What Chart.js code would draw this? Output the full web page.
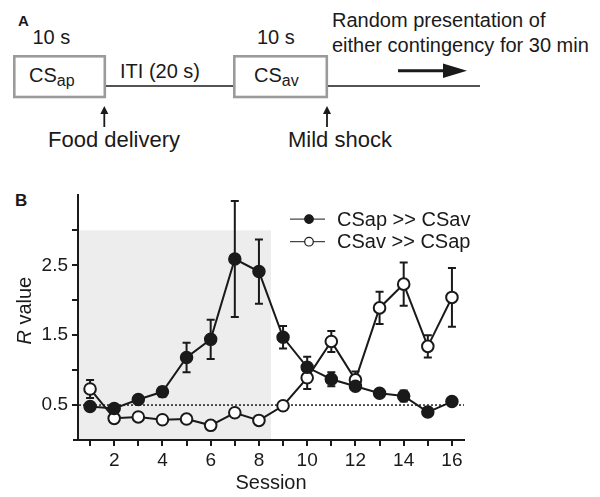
<!DOCTYPE html>
<html>
<head>
<meta charset="utf-8">
<script src="https://cdn.jsdelivr.net/npm/chart.js@4.4.1/dist/chart.umd.min.js"></script>
<style>
    body { margin: 0; background: #fff; font-family: "Liberation Sans", Arial, sans-serif; }
    #page { position: relative; width: 600px; height: 497px; overflow: hidden; }
    #panelA { position: absolute; left: 0; top: 0; }
    #labelB { position: absolute; left: 15px; top: 192px; font-size: 17px; font-weight: bold; line-height: 17px; color: #1a1a1a; }
    #chartBox { position: absolute; left: 0; top: 180px; width: 600px; height: 317px; }
</style>
</head>
<body>
<div id="page">
    <svg id="panelA" width="600" height="170" font-family="Liberation Sans, Arial, sans-serif" fill="#1a1a1a">
        <text x="18" y="26" font-size="15" font-weight="bold">A</text>
        <text x="32.5" y="44" font-size="20">10 s</text>
        <text x="257" y="44" font-size="20">10 s</text>
        <rect x="14.3" y="56.3" width="90.5" height="40.7" fill="none" stroke="#9b9b9b" stroke-width="2.6"/>
        <rect x="234.3" y="56.3" width="92.5" height="40.7" fill="none" stroke="#9b9b9b" stroke-width="2.6"/>
        <text x="29" y="82" font-size="20">CS<tspan font-size="16" dy="4">ap</tspan></text>
        <text x="254" y="82" font-size="20">CS<tspan font-size="16" dy="4">av</tspan></text>
        <line x1="106" y1="86" x2="233" y2="86" stroke="#1a1a1a" stroke-width="1.5"/>
        <line x1="328" y1="86" x2="480" y2="86" stroke="#1a1a1a" stroke-width="1.5"/>
        <text x="120" y="77.5" font-size="20">ITI (20 s)</text>
        <text x="332" y="27" font-size="20">Random presentation of</text>
        <text x="332" y="52" font-size="20">either contingency for 30 min</text>
        <line x1="398" y1="70.7" x2="446" y2="70.7" stroke="#1a1a1a" stroke-width="3"/>
        <polygon points="443,63.5 467,70.7 443,78" fill="#1a1a1a"/>
        <line x1="104.3" y1="127" x2="104.3" y2="112" stroke="#1a1a1a" stroke-width="1.8"/>
        <polygon points="100.3,114 104.3,106 108.3,114" fill="#1a1a1a"/>
        <line x1="327" y1="127" x2="327" y2="112" stroke="#1a1a1a" stroke-width="1.8"/>
        <polygon points="323,114 327,106 331,114" fill="#1a1a1a"/>
        <text x="48" y="147" font-size="22">Food delivery</text>
        <text x="288" y="147" font-size="22">Mild shock</text>
    </svg>
    <div id="labelB">B</div>
    <div id="chartBox"><canvas id="rchart"></canvas></div>
</div>

<script>
// session axis
var sessions = [1, 2, 3, 4, 5, 6, 7, 8, 9, 10, 11, 12, 13, 14, 15, 16];
var xTicks = [1, 2, 3, 4, 5, 6, 7, 8, 9, 10, 11, 12, 13, 14, 15, 16];
var yTicks = [0.5, 1, 1.5, 2, 2.5, 3];
var yLabels = [0.5, 1.5, 2.5];

// CSap >> CSav (filled)
var csapMean = [0.48, 0.45, 0.58, 0.69, 1.18, 1.44, 2.59, 2.41, 1.47, 1.04, 0.87, 0.77, 0.67, 0.63, 0.40, 0.55];
var csapErr  = [0.04, 0.04, 0.04, 0.07, 0.21, 0.28, 0.83, 0.46, 0.16, 0.15, 0.10, 0.05, 0.05, 0.08, 0.06, 0.05];

// CSav >> CSap (open)
var csavMean = [0.73, 0.31, 0.33, 0.29, 0.30, 0.21, 0.39, 0.28, 0.49, 0.89, 1.41, 0.86, 1.89, 2.23, 1.34, 2.04];
var csavErr  = [0.13, 0.03, 0.03, 0.03, 0.03, 0.03, 0.05, 0.03, 0.04, 0.16, 0.15, 0.12, 0.23, 0.31, 0.16, 0.42];

var seriesNames = ['CSap >> CSav', 'CSav >> CSap'];
var shadeSessions = [0.5, 8.5];
var shadeTop = 3;
var baseline = 0.5;

var FONT = '"Liberation Sans", Arial, sans-serif';
var INK = '#1a1a1a';

function points(vals) {
    return sessions.map(function (s, i) { return { x: s, y: vals[i] }; });
}

// grey box over first sessions + dotted line at R = 0.5
var backdrop = {
    id: 'backdrop',
    beforeDatasetsDraw: function (chart) {
        var ctx = chart.ctx, xs = chart.scales.x, ys = chart.scales.y, a = chart.chartArea;
        ctx.save();
        ctx.fillStyle = '#ededed';
        var x0 = xs.getPixelForValue(shadeSessions[0]) + 1, x1 = xs.getPixelForValue(shadeSessions[1]);
        var y0 = ys.getPixelForValue(shadeTop);
        ctx.fillRect(x0, y0, x1 - x0, a.bottom - 1 - y0);

        // x axis runs a little past the y axis
        ctx.strokeStyle = INK;
        ctx.lineWidth = 2;
        ctx.beginPath();
        ctx.moveTo(a.left - 5, a.bottom);
        ctx.lineTo(a.left, a.bottom);
        ctx.stroke();

        ctx.lineWidth = 1.5;
        ctx.setLineDash([2, 2]);
        var yb = ys.getPixelForValue(baseline);
        ctx.beginPath();
        ctx.moveTo(a.left + 1, yb);
        ctx.lineTo(a.right, yb);
        ctx.stroke();
        ctx.setLineDash([]);

        // error bars, under the markers
        var sets = [[csavMean, csavErr], [csapMean, csapErr]];
        ctx.lineWidth = 2;
        sets.forEach(function (d) {
            d[0].forEach(function (v, i) {
                var x = xs.getPixelForValue(sessions[i]);
                var yt = ys.getPixelForValue(v + d[1][i]);
                var yl = ys.getPixelForValue(v - d[1][i]);
                ctx.beginPath();
                ctx.moveTo(x, yt); ctx.lineTo(x, yl);
                ctx.moveTo(x - 4, yt); ctx.lineTo(x + 4, yt);
                ctx.moveTo(x - 4, yl); ctx.lineTo(x + 4, yl);
                ctx.stroke();
            });
        });
        ctx.restore();
    }
};

// legend and italic R axis title
var extras = {
    id: 'extras',
    afterDraw: function (chart) {
        var ctx = chart.ctx, a = chart.chartArea;
        ctx.save();
        var rows = [a.top + 23.7, a.top + 46.3];
        rows.forEach(function (y, k) {
            ctx.strokeStyle = INK;
            ctx.lineWidth = 1;
            ctx.beginPath();
            ctx.moveTo(a.left + 212, y);
            ctx.lineTo(a.left + 247, y);
            ctx.stroke();
            ctx.beginPath();
            ctx.arc(a.left + 231, y, 4.3, 0, Math.PI * 2);
            ctx.fillStyle = k === 0 ? INK : '#fff';
            ctx.fill();
            ctx.lineWidth = 1.2;
            ctx.stroke();
            ctx.fillStyle = INK;
            ctx.font = '20px ' + FONT;
            ctx.textBaseline = 'middle';
            ctx.fillText(seriesNames[k], a.left + 259, y + 1);
        });

        ctx.translate(a.left - 53, (a.top + a.bottom) / 2 - 7);
        ctx.rotate(-Math.PI / 2);
        ctx.textBaseline = 'middle';
        ctx.font = 'italic 20px ' + FONT;
        var wR = ctx.measureText('R').width;
        ctx.font = '20px ' + FONT;
        var wRest = ctx.measureText(' value').width;
        var start = -(wR + wRest) / 2;
        ctx.font = 'italic 20px ' + FONT;
        ctx.fillText('R', start, 0);
        ctx.font = '20px ' + FONT;
        ctx.fillText(' value', start + wR, 0);
        ctx.restore();
    }
};

new Chart(document.getElementById('rchart').getContext('2d'), {
    type: 'line',
    data: {
        datasets: [{
            label: seriesNames[0],
            data: points(csapMean),
            borderColor: INK,
            borderWidth: 2,
            backgroundColor: INK,
            pointBackgroundColor: INK,
            pointBorderColor: INK,
            pointBorderWidth: 1.5,
            pointRadius: 6,
            tension: 0
        }, {
            label: seriesNames[1],
            data: points(csavMean),
            borderColor: INK,
            borderWidth: 2,
            backgroundColor: '#fff',
            pointBackgroundColor: '#fff',
            pointBorderColor: INK,
            pointBorderWidth: 2,
            pointRadius: 5.8,
            tension: 0
        }]
    },
    options: {
        responsive: true,
        maintainAspectRatio: false,
        animation: false,
        layout: { padding: { top: 8, right: 136, left: 0, bottom: 0 } },
        plugins: { legend: { display: false }, tooltip: { enabled: false } },
        scales: {
            x: {
                type: 'linear',
                min: 0.5,
                max: 16.5,
                afterBuildTicks: function (s) { s.ticks = xTicks.map(function (v) { return { value: v }; }); },
                afterFit: function (s) { s.height = 57; },
                ticks: {
                    autoSkip: false,
                    maxRotation: 0,
                    padding: 3,
                    color: INK,
                    font: { family: FONT, size: 19 },
                    callback: function (v) { return v % 2 === 0 ? String(v) : ''; }
                },
                grid: { display: true, drawOnChartArea: false, drawTicks: true, tickLength: 6, color: INK, lineWidth: 2 },
                border: { display: true, color: INK, width: 2 },
                title: { display: true, text: 'Session', color: INK, font: { family: FONT, size: 20 }, padding: { top: 0, bottom: 2 } }
            },
            y: {
                min: 0,
                max: 3.5,
                afterBuildTicks: function (s) { s.ticks = yTicks.map(function (v) { return { value: v }; }); },
                afterFit: function (s) { s.width = 78; },
                ticks: {
                    padding: 4,
                    color: INK,
                    font: { family: FONT, size: 19 },
                    callback: function (v) { return yLabels.indexOf(v) >= 0 ? String(v) : ''; }
                },
                grid: { display: true, drawOnChartArea: false, drawTicks: true, tickLength: 6, color: INK, lineWidth: 2 },
                border: { display: true, color: INK, width: 2 }
            }
        }
    },
    plugins: [backdrop, extras]
});
</script>
</body>
</html>
